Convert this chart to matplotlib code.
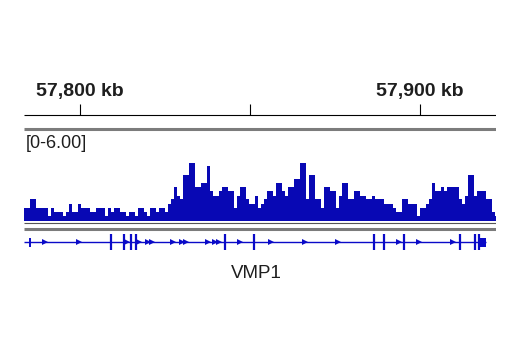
import matplotlib
matplotlib.use("Agg")
import matplotlib.pyplot as plt
import numpy as np

plt.rcParams["font.family"] = ["Liberation Sans", "DejaVu Sans"]

# genomic window (kb) and signal bins
VIEW_KB = (57783.5, 57922.4)
BIN_START_KB = 57783.5
BIN_KB = 0.882
TICKS_KB = [57800, 57850, 57900]
TICK_LABELS = {57800: "57,800 kb", 57900: "57,900 kb"}
DATA_RANGE = (0, 6.0)

# ChIP signal, read left to right
signal_a = [1.25, 1.25, 2.1, 2.1, 1.25, 1.25, 1.25, 1.25, 0.5, 1.25, 0.85, 0.85,
            0.85, 0.5, 0.85, 1.65, 0.85, 0.85, 1.65, 1.25, 1.25, 1.25, 0.85, 0.85,
            1.25, 1.25]
signal_b = [1.25, 0.5, 1.25, 0.85, 1.25, 1.25, 0.85, 0.85, 0.5, 0.85, 0.85, 0.5,
            1.25, 1.25, 0.85, 0.5, 1.25, 1.25, 0.85, 1.25, 1.25, 0.85, 1.65, 2.1,
            3.3]
signal_c = [2.45, 2.1, 4.45, 4.45, 5.65, 5.65, 3.3, 3.3, 3.7, 3.7, 5.35, 2.9,
            2.45, 2.45, 2.9, 3.3, 3.3, 2.9, 2.9, 1.25, 2.45, 3.3, 3.3, 2.1, 1.65,
            1.65, 2.45]
signal_d = [1.25, 1.65, 2.1, 2.9, 2.9, 2.45, 3.7, 3.7, 2.9, 2.45, 3.3, 3.3, 4.05,
            4.05, 5.65, 5.65, 2.1, 4.45, 4.45, 2.1, 2.1, 1.25, 3.3, 3.3, 2.9, 2.9]
signal_e = [1.25, 2.45, 3.7, 3.7, 2.1, 2.1, 2.9, 2.9, 2.45, 2.45, 2.1, 2.1, 2.45,
            2.1, 2.1, 2.1, 1.65, 1.65, 1.65, 1.25, 0.85, 0.85, 2.1, 2.1, 1.65, 1.65]
signal_f = [1.65, 0.5, 1.25, 1.25, 1.65, 2.1, 3.7, 2.9, 2.9, 3.3, 2.9, 3.3, 3.3,
            3.3, 3.3, 2.1, 1.65, 2.45, 4.45, 4.45, 2.45, 2.9, 2.9, 2.9, 2.1, 2.1,
            0.85, 0.5]

# VMP1 gene model (kb)
GENE_SPAN = (57783.6, 57919.4)
gene_first = 57785.2
exons = [57809.0, 57812.9, 57814.9, 57816.4, 57842.6, 57851.3, 57886.5,
         57889.3, 57895.4, 57911.8, 57916.2, 57917.3]
utr3 = (57917.6, 57919.6)
strand_marks = [57789.7, 57799.7, 57813.7, 57817.4, 57819.9, 57821.2, 57827.4,
                57829.9, 57831.1, 57837.6, 57839.7, 57841.0, 57847.1, 57856.1,
                57866.2, 57876.0, 57893.8, 57899.8, 57909.8]
GENE_NAME = "VMP1"
GENE_LABEL_KB = 57851.8

BLUE = "#0808b4"
GENE_BLUE = "#0a0ac8"
GREY = "#7c7c7c"
INK = "#1e1e1e"

W, H = 520, 350


def px_axes(fig, x0, y0, x1, y1):
    """Axes placed by pixel box (top-left origin)."""
    return fig.add_axes([x0 / W, 1 - y1 / H, (x1 - x0) / W, (y1 - y0) / H])


fig = plt.figure(figsize=(W / 100, H / 100), dpi=100)
fig.patch.set_facecolor("white")

# layout axes: genomic x, pixel y
ax = px_axes(fig, 24, 0, 496, 350)
ax.set_xlim(*VIEW_KB)
ax.set_ylim(350, 0)
ax.axis("off")

ax.hlines(115, *VIEW_KB, color="k", lw=0.8)
ax.vlines(TICKS_KB, 104, 115, color="k", lw=0.8)
for kb, lab in TICK_LABELS.items():
    ax.text(kb, 91.5, lab, ha="center", va="center", fontsize=14,
            fontweight="bold", color=INK)
ax.hlines(128.5, *VIEW_KB, color=GREY, lw=2.2)
ax.text(VIEW_KB[0] + 0.6, 143, "[0-%.2f]" % DATA_RANGE[1], ha="left",
        va="center", fontsize=13, color=INK)
ax.hlines(223, *VIEW_KB, color="#555555", lw=0.8)
ax.hlines(228.5, *VIEW_KB, color=GREY, lw=2.2)

# gene track
ax.hlines(242, *GENE_SPAN, color=GENE_BLUE, lw=1.0)
ax.vlines(gene_first, 237.5, 246.5, color=GENE_BLUE, lw=1.4)
ax.vlines(exons, 234, 250, color=GENE_BLUE, lw=1.6)
ax.bar(utr3[0], 9, width=utr3[1] - utr3[0], bottom=237.5, align="edge",
       color=GENE_BLUE, lw=0)
ax.plot(strand_marks, [242] * len(strand_marks), ls="none", marker=">",
        ms=4, color=GENE_BLUE, mew=0)
ax.text(GENE_LABEL_KB, 273, GENE_NAME, ha="center", va="center", fontsize=13.5,
        color=INK)

# signal track
sig = np.concatenate([signal_a, signal_b, signal_c, signal_d, signal_e, signal_f])
edges = BIN_START_KB + BIN_KB * np.arange(len(sig) + 1)
ax_sig = px_axes(fig, 24, 159.5, 496, 221)
ax_sig.set_xlim(*VIEW_KB)
ax_sig.set_ylim(*DATA_RANGE)
ax_sig.axis("off")
ax_sig.stairs(sig, edges, fill=True, color=BLUE, lw=0)

fig.savefig("out.png", dpi=100, facecolor="white")
plt.close(fig)
